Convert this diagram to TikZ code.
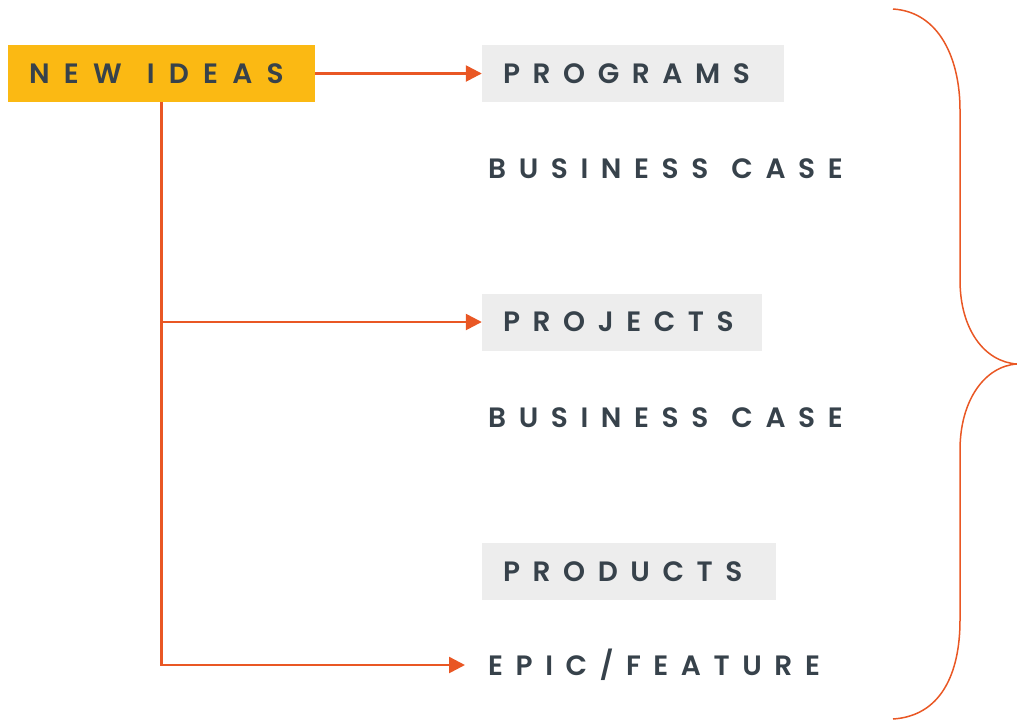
\documentclass[tikz,border=0pt]{standalone}
\usepackage{fontspec}
\setmainfont{Poppins}
\newfontfamily\capsfont{Poppins SemiBold}[LetterSpace=45, WordSpace=1.2]
\usetikzlibrary{arrows.meta}
\definecolor{ideaY}{RGB}{251,185,19}
\definecolor{boxG}{RGB}{237,237,237}
\definecolor{txtD}{RGB}{55,66,75}
\definecolor{orng}{RGB}{233,87,36}
\tikzset{
  lbl/.style={font=\capsfont\fontsize{28}{28}\selectfont, text=txtD},
  boxed/.style={lbl, inner xsep=21pt, inner ysep=0pt, minimum height=57pt},
  plain/.style={lbl, inner sep=0pt, anchor=base west},
  conn/.style={draw=orng, line width=2.5pt, -{Triangle[length=16pt,width=16pt]}},
  brace/.style={draw=orng, line width=1.5pt}
}
\begin{document}
\begin{tikzpicture}[x=1pt,y=-1pt]
\useasboundingbox (0,0) rectangle (1017,721);
\node[boxed, fill=ideaY] (ideas) at (161.5,73.5) {\makebox[265pt][l]{\addfontfeature{LetterSpace=51}NEW IDEAS}};
\node[boxed, fill=boxG] (programs) at (633,73.5) {\makebox[260pt][l]{PROGRAMS}};
\node[plain] (bc1) at (488,178.5) {BUSINESS CASE};
\node[boxed, fill=boxG] (projects) at (622,322) {\makebox[238pt][l]{PROJECTS}};
\node[plain] (bc2) at (488,427.5) {BUSINESS CASE};
\node[boxed, fill=boxG] (products) at (629,571.5) {\makebox[252pt][l]{PRODUCTS}};
\node[plain] (epic) at (488,675.5) {EPIC/FEATURE};
\coordinate (epictip) at (465,665);
\draw[conn] (ideas.east) -- (programs.west);
\draw[conn] (ideas.south) |- (projects.west);
\draw[conn] (ideas.south) |- (epictip);
\draw[brace] (893,9) .. controls (940,12) and (960,60) .. (960,110) -- (960,280)
  .. controls (960,330) and (985,362) .. (1017,364)
  .. controls (985,366) and (960,400) .. (960,450) -- (960,620)
  .. controls (960,675) and (940,716) .. (893,719);
\end{tikzpicture}
\end{document}
